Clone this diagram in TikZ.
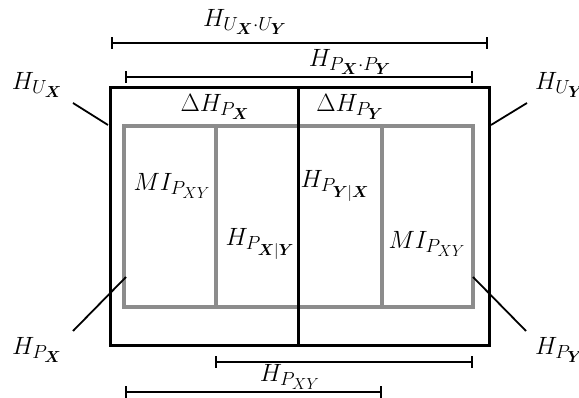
\RequirePackage{fix-cm}
\documentclass[tikz,border=0pt]{standalone}
\usepackage{amsmath,bm}
\DeclareMathSizes{25}{25}{19}{16}
\begin{document}
\begin{tikzpicture}[x=1pt,y=-1pt,
  outer/.style={draw=black,line width=3pt},
  inner/.style={draw=black!45,line width=3.2pt},
  dimline/.style={draw=black,line width=1.8pt,|-|},
  leader/.style={draw=black,line width=1.8pt},
  lbl/.style={inner sep=0pt,font=\fontsize{25}{30}\selectfont}]
\useasboundingbox (0,0) rectangle (579,398);
% outer box
\coordinate (o1) at (110,88);
\coordinate (o2) at (489,346);
\coordinate (mt) at (298,88);
\coordinate (mb) at (298,346);
% inner gray box
\coordinate (i1) at (124,126);
\coordinate (i2) at (473,307);
\coordinate (g1t) at (216,126);
\coordinate (g1b) at (216,307);
\coordinate (g2t) at (382,126);
\coordinate (g2b) at (382,307);
\draw[inner] (i1) rectangle (i2);
\draw[inner] (g1t) -- (g1b);
\draw[inner] (g2t) -- (g2b);
\draw[outer] (o1) rectangle (o2);
\draw[outer] (mt) -- (mb);
% dimension lines
\coordinate (a1) at (111,43); \coordinate (a2) at (488,43);
\coordinate (b1) at (125,77); \coordinate (b2) at (473,77);
\coordinate (c1) at (215,362); \coordinate (c2) at (473,362);
\coordinate (d1) at (125,392); \coordinate (d2) at (382,392);
\draw[dimline] (a1) -- (a2);
\draw[dimline] (b1) -- (b2);
\draw[dimline] (c1) -- (c2);
\draw[dimline] (d1) -- (d2);
% labels
\node[lbl] (lUU) at (245,22) {$H_{U_{\bm X}\cdot U_{\bm Y}}$};
\node[lbl] (lPP) at (350,62) {$H_{P_{\bm X}\cdot P_{\bm Y}}$};
\node[lbl] (dX) at (215,107) {$\Delta H_{P_{\bm X}}$};
\node[lbl] (dY) at (350,107) {$\Delta H_{P_{\bm Y}}$};
\node[lbl] (mi1) at (172,186) {$MI_{P_{XY}}$};
\node[lbl] (hxy) at (260,244) {$H_{P_{\bm X|\bm Y}}$};
\node[lbl] (hyx) at (335,186) {$H_{P_{\bm Y|\bm X}}$};
\node[lbl] (mi2) at (427,244) {$MI_{P_{XY}}$};
\node[lbl] (hj) at (290,377) {$H_{P_{XY}}$};
\node[lbl] (hux) at (37,85) {$H_{U_{\bm X}}$};
\node[lbl,anchor=west] (huy) at (535,85) {$H_{U_{\bm Y}}$};
\node[lbl] (hpx) at (37,350) {$H_{P_{\bm X}}$};
\node[lbl,anchor=west] (hpy) at (535,350) {$H_{P_{\bm Y}}$};
% leader lines
\coordinate (ux1) at (73,103); \coordinate (ux2) at (108,125);
\coordinate (uy1) at (527,103); \coordinate (uy2) at (491,125);
\coordinate (px1) at (73,331); \coordinate (px2) at (126,277);
\coordinate (py1) at (526,331); \coordinate (py2) at (473,277);
\draw[leader] (ux1) -- (ux2);
\draw[leader] (uy1) -- (uy2);
\draw[leader] (px1) -- (px2);
\draw[leader] (py1) -- (py2);
\end{tikzpicture}
\end{document}
